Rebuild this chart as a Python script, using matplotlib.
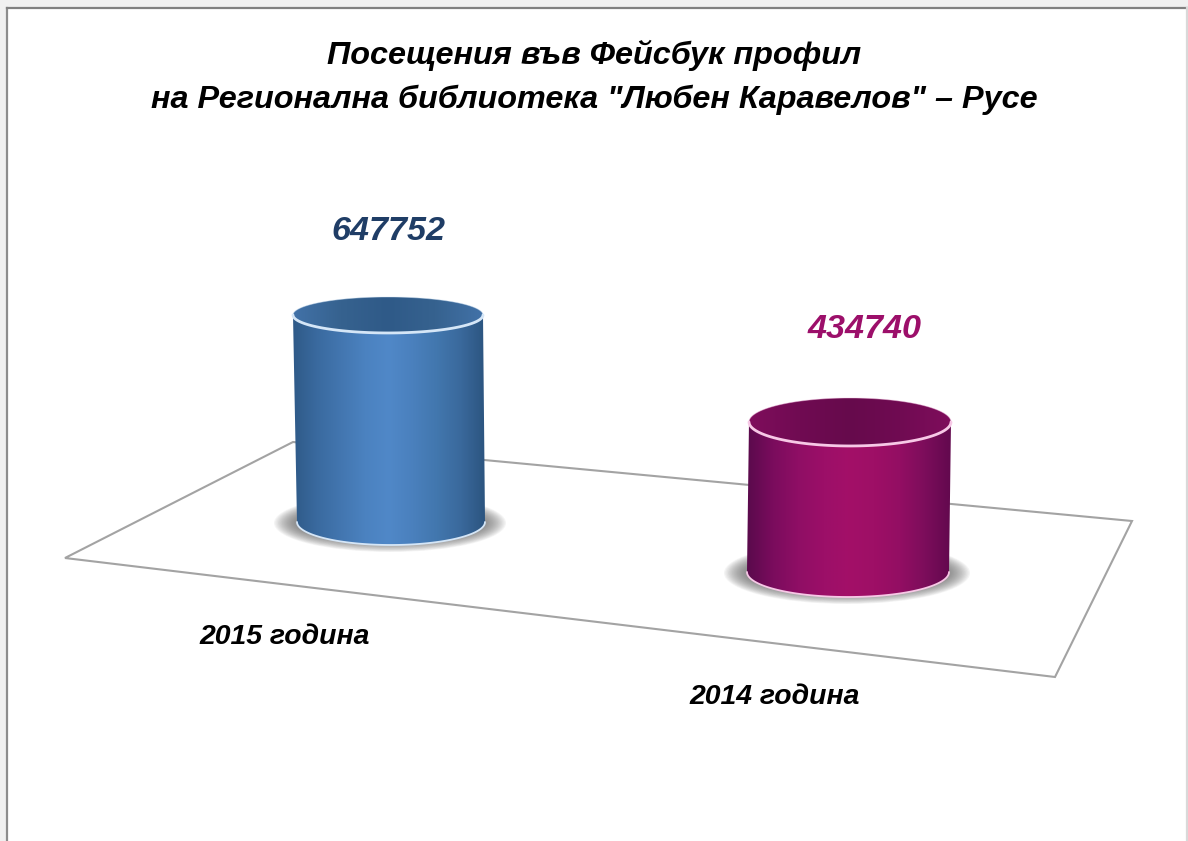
import numpy as np
import matplotlib
matplotlib.use("Agg")
import matplotlib.pyplot as plt
from matplotlib.patches import Ellipse, Polygon, Rectangle, PathPatch
from matplotlib.path import Path
from matplotlib.colors import LinearSegmentedColormap

# dati
years = ["2015 година", "2014 година"]
visits = [647752, 434740]
title_lines = ['Посещения във Фейсбук профил',
               'на Регионална библиотека "Любен Каравелов" – Русе']

plt.rcParams['font.family'] = ['Liberation Sans', 'DejaVu Sans']

W, H = 1188, 841
fig = plt.figure(figsize=(W / 100, H / 100), dpi=100, facecolor='#f0f0f0')
ax = fig.add_axes([0, 0, 1, 1])
ax.set_xlim(0, W)
ax.set_ylim(H, 0)
ax.axis('off')

# foglio bianco
ax.add_patch(Rectangle((7, 8), 1179, H, fc='white', ec='none', zorder=0))
ax.plot([7, 7], [8, H], color='#8c8c8c', lw=1.6, zorder=0.5)
ax.plot([7, W], [8, 8], color='#808080', lw=1.6, zorder=0.5)
ax.plot([1186.5, 1186.5], [8, H], color='#d9d9d9', lw=1.6, zorder=0.5)

# piano prospettico
floor = [(65, 558), (293, 442), (1132, 521), (1055, 677)]
ax.add_patch(Polygon(floor, closed=True, fc='white', ec='#a3a3a3', lw=1.5, zorder=1))


def height_px(v):
    # scala altezza con la prospettiva del grafico
    return 33.7 + 0.0002676 * v


def ell(cx, cy, a, b, t):
    return cx + a * np.cos(t), cy + b * np.sin(t)


def gradient(patch_pts, cmap_cols, extent, z):
    codes = [Path.MOVETO] + [Path.LINETO] * (len(patch_pts) - 2) + [Path.CLOSEPOLY]
    clip = PathPatch(Path(patch_pts, codes), fc='none', ec='none', transform=ax.transData)
    ax.add_patch(clip)
    cmap = LinearSegmentedColormap.from_list('grad', cmap_cols)
    im = ax.imshow(np.linspace(0, 1, 256).reshape(1, -1), cmap=cmap, aspect='auto',
                   extent=extent, zorder=z, interpolation='bilinear')
    im.set_clip_path(clip)


def cylinder(xb, yb, ab, bb, xt, at, bt, value, side, inner, rim, z):
    yt = yb - height_px(value)

    # ombra a terra
    for k in np.linspace(1, 0, 16):
        ax.add_patch(Ellipse((xb - 1, yb + 1), 2 * (ab + 2 + 20 * k), 2 * (bb - 4 + 10 * k),
                             fc='#666666', ec='none', alpha=0.065, zorder=z))

    # corpo con sfumatura orizzontale
    xtop, ytop = ell(xt, yt, at, bt, np.linspace(np.pi, 0, 80))
    xbot, ybot = ell(xb, yb, ab, bb, np.linspace(0, np.pi, 80))
    pts = np.r_[np.c_[xtop, ytop], np.c_[xbot, ybot], [[xtop[0], ytop[0]]]]
    left = min(xt - at, xb - ab)
    right = max(xt + at, xb + ab)
    gradient(pts, side, (left, right, yb + bb, yt - bt), z + 1)

    # bordo inferiore chiaro
    ax.plot(xbot, ybot, color=rim, lw=1.3, zorder=z + 2, solid_capstyle='round')

    # faccia superiore
    xe, ye = ell(xt, yt, at, bt, np.linspace(0, 2 * np.pi, 160))
    gradient(np.c_[xe, ye], inner, (xt - at, xt + at, yt + bt, yt - bt), z + 2)
    xr, yr = ell(xt, yt, at, bt, np.linspace(0, np.pi, 80))
    ax.plot(xr, yr, color=rim, lw=2.0, zorder=z + 3, solid_capstyle='round')
    xr, yr = ell(xt, yt, at, bt, np.linspace(np.pi, 2 * np.pi, 80))
    ax.plot(xr, yr, color=rim, lw=0.7, alpha=0.45, zorder=z + 3)


blue_side = ['#2f5a88', '#3a6a9f', '#4376b0', '#4b82c0', '#5088c8', '#4a80bd', '#4277ae', '#3a699c', '#2c5580']
red_side = ['#5a0a4c', '#7a0c5d', '#8f0e65', '#9c0f68', '#a31068', '#9e0f66', '#930e63', '#7c0d5b', '#62094e']
blue_top = ['#4272a8', '#36628f', '#2f5a88', '#36628f', '#4272a8']
red_top = ['#7f0d5c', '#700b52', '#660a4c', '#700b52', '#7f0d5c']

cylinder(391, 522, 94, 23, 388, 95, 18, visits[0], blue_side, blue_top, '#d5e6f7', 3)
cylinder(848, 572, 101, 25, 850, 101, 24, visits[1], red_side, red_top, '#f7c8e6', 3)

# testi
ax.text(594, 55, title_lines[0], ha='center', va='center', fontsize=23.3,
        fontweight='bold', fontstyle='italic', color='black', zorder=10)
ax.text(594, 100, title_lines[1], ha='center', va='center', fontsize=23.3,
        fontweight='bold', fontstyle='italic', color='black', zorder=10)

ax.text(388, 231, str(visits[0]), ha='center', va='center', fontsize=24.6,
        fontweight='bold', fontstyle='italic', color='#1f3d66', zorder=10)
ax.text(865, 329, str(visits[1]), ha='center', va='center', fontsize=24.6,
        fontweight='bold', fontstyle='italic', color='#9c0f6a', zorder=10)

ax.text(285, 637, years[0], ha='center', va='center', fontsize=20.4,
        fontweight='bold', fontstyle='italic', color='black', zorder=10)
ax.text(775, 697, years[1], ha='center', va='center', fontsize=20.4,
        fontweight='bold', fontstyle='italic', color='black', zorder=10)

fig.savefig('out.png', dpi=100, facecolor=fig.get_facecolor())
